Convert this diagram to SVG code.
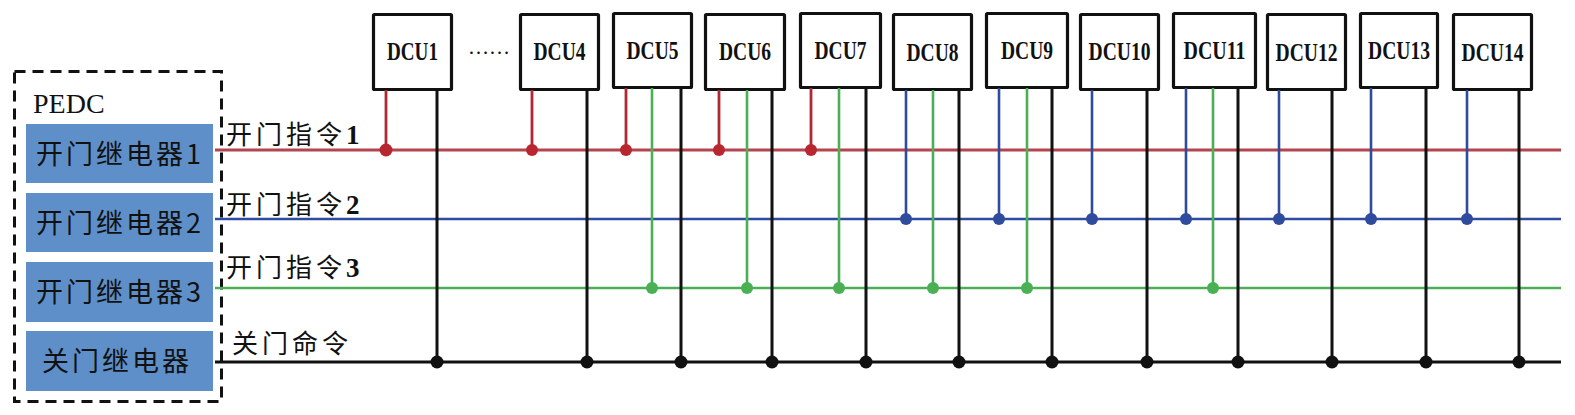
<svg xmlns="http://www.w3.org/2000/svg" width="1575" height="415" viewBox="0 0 1575 415">
<style>
.bg{fill:#ffffff}
.dcu rect{fill:#ffffff;stroke:#111111;stroke-width:3.2}
.dcu text{font-family:"Liberation Serif","Times New Roman",serif;font-weight:bold;font-size:25px;fill:#111111;text-anchor:middle}
.relay rect{fill:#5E8FC9}
.relay text{font-family:"Noto Sans CJK SC","Noto Sans",sans-serif;font-size:27px;fill:#111111;letter-spacing:3px}
.lbl{font-family:"Noto Sans CJK SC","Noto Sans",sans-serif;font-size:26px;fill:#111111;letter-spacing:4px}
.num{font-family:"Liberation Serif","Times New Roman",serif;font-weight:bold;font-size:27px;letter-spacing:0}
.r{stroke:#B2454D;stroke-width:2.8;fill:none}
.rv{stroke:#AE2A33;stroke-width:2.8;fill:none}
.b{stroke:#2F4B9E;stroke-width:2.6;fill:none}
.g{stroke:#4BAF54;stroke-width:2.6;fill:none}
.k{stroke:#111111;stroke-width:3;fill:none}
.dr{fill:#B8272F}
.db{fill:#2F4B9E}
.dg{fill:#4BAF54}
.dk{fill:#111111}
</style>
<rect class="bg" x="0" y="0" width="1575" height="415"/>

<g id="pedc">
<rect x="14.5" y="71.5" width="207" height="330" fill="none" stroke="#111111" stroke-width="3" stroke-dasharray="11 7"/>
<text x="33" y="113" font-family="Liberation Serif,'Times New Roman',serif" font-size="28" fill="#111111">PEDC</text>
</g>

<g id="relay1" class="relay">
<rect x="26" y="124" width="187" height="59"/>
<text x="36" y="164">开门继电器1</text>
</g>
<g id="relay2" class="relay">
<rect x="26" y="193" width="187" height="59"/>
<text x="36" y="233">开门继电器2</text>
</g>
<g id="relay3" class="relay">
<rect x="26" y="262" width="187" height="60"/>
<text x="36" y="302">开门继电器3</text>
</g>
<g id="relay4" class="relay">
<rect x="26" y="331" width="187" height="60"/>
<text x="42" y="371">关门继电器</text>
</g>

<g id="dcu1" class="dcu"><rect x="373.5" y="14.5" width="78" height="75" rx="1"/><text x="412.5" y="60" textLength="51" lengthAdjust="spacingAndGlyphs">DCU1</text></g>
<g id="dcu4" class="dcu"><rect x="520.5" y="14.5" width="78" height="75" rx="1"/><text x="559.5" y="60" textLength="52" lengthAdjust="spacingAndGlyphs">DCU4</text></g>
<g id="dcu5" class="dcu"><rect x="613.5" y="13.5" width="78" height="74" rx="1"/><text x="652.5" y="59" textLength="52" lengthAdjust="spacingAndGlyphs">DCU5</text></g>
<g id="dcu6" class="dcu"><rect x="705.5" y="14.5" width="79" height="75" rx="1"/><text x="745" y="60" textLength="52" lengthAdjust="spacingAndGlyphs">DCU6</text></g>
<g id="dcu7" class="dcu"><rect x="800.5" y="13.5" width="80" height="74" rx="1"/><text x="840.5" y="59" textLength="52" lengthAdjust="spacingAndGlyphs">DCU7</text></g>
<g id="dcu8" class="dcu"><rect x="893.5" y="14.5" width="78" height="75" rx="1"/><text x="932.5" y="61" textLength="52" lengthAdjust="spacingAndGlyphs">DCU8</text></g>
<g id="dcu9" class="dcu"><rect x="986.5" y="13.5" width="81" height="74" rx="1"/><text x="1027" y="59" textLength="52" lengthAdjust="spacingAndGlyphs">DCU9</text></g>
<g id="dcu10" class="dcu"><rect x="1080.5" y="14.5" width="78" height="75" rx="1"/><text x="1119.5" y="60" textLength="62" lengthAdjust="spacingAndGlyphs">DCU10</text></g>
<g id="dcu11" class="dcu"><rect x="1173.5" y="13.5" width="82" height="74" rx="1"/><text x="1214.5" y="59" textLength="62" lengthAdjust="spacingAndGlyphs">DCU11</text></g>
<g id="dcu12" class="dcu"><rect x="1267.5" y="14.5" width="78" height="75" rx="1"/><text x="1306.5" y="61" textLength="62" lengthAdjust="spacingAndGlyphs">DCU12</text></g>
<g id="dcu13" class="dcu"><rect x="1360.5" y="13.5" width="77" height="74" rx="1"/><text x="1399" y="59" textLength="62" lengthAdjust="spacingAndGlyphs">DCU13</text></g>
<g id="dcu14" class="dcu"><rect x="1453.5" y="14.5" width="78" height="75" rx="1"/><text x="1492.5" y="61" textLength="62" lengthAdjust="spacingAndGlyphs">DCU14</text></g>

<text id="ellipsis" x="468" y="54" font-family="Liberation Serif,'Times New Roman',serif" font-size="21" fill="#111111">……</text>

<g id="labels">
<text class="lbl" x="226" y="144">开门指令<tspan class="num">1</tspan></text>
<text class="lbl" x="226" y="214">开门指令<tspan class="num">2</tspan></text>
<text class="lbl" x="226" y="277">开门指令<tspan class="num">3</tspan></text>
<text class="lbl" x="232" y="353">关门命令</text>
</g>

<g id="connectors">
<line class="r" x1="215" y1="150" x2="1561" y2="150"/>
<line class="b" x1="215" y1="219" x2="1561" y2="219"/>
<line class="g" x1="215" y1="288" x2="1561" y2="288"/>
<line class="k" x1="215" y1="362" x2="1561" y2="362"/>

<line class="rv" x1="386" y1="90" x2="386" y2="150"/>
<line class="rv" x1="532" y1="90" x2="532" y2="150"/>
<line class="rv" x1="626" y1="88" x2="626" y2="150"/>
<line class="rv" x1="719" y1="90" x2="719" y2="150"/>
<line class="rv" x1="811" y1="88" x2="811" y2="150"/>

<line class="b" x1="906" y1="90" x2="906" y2="219"/>
<line class="b" x1="999" y1="88" x2="999" y2="219"/>
<line class="b" x1="1092" y1="90" x2="1092" y2="219"/>
<line class="b" x1="1186" y1="88" x2="1186" y2="219"/>
<line class="b" x1="1279" y1="90" x2="1279" y2="219"/>
<line class="b" x1="1371" y1="88" x2="1371" y2="219"/>
<line class="b" x1="1467" y1="90" x2="1467" y2="219"/>

<line class="g" x1="652" y1="88" x2="652" y2="288"/>
<line class="g" x1="747" y1="90" x2="747" y2="288"/>
<line class="g" x1="839" y1="88" x2="839" y2="288"/>
<line class="g" x1="933" y1="90" x2="933" y2="288"/>
<line class="g" x1="1027" y1="88" x2="1027" y2="288"/>
<line class="g" x1="1213" y1="88" x2="1213" y2="288"/>

<line class="k" x1="437" y1="90" x2="437" y2="362"/>
<line class="k" x1="587" y1="90" x2="587" y2="362"/>
<line class="k" x1="681" y1="88" x2="681" y2="362"/>
<line class="k" x1="772" y1="90" x2="772" y2="362"/>
<line class="k" x1="866" y1="88" x2="866" y2="362"/>
<line class="k" x1="959" y1="90" x2="959" y2="362"/>
<line class="k" x1="1052" y1="88" x2="1052" y2="362"/>
<line class="k" x1="1147" y1="90" x2="1147" y2="362"/>
<line class="k" x1="1238" y1="88" x2="1238" y2="362"/>
<line class="k" x1="1332" y1="90" x2="1332" y2="362"/>
<line class="k" x1="1426" y1="88" x2="1426" y2="362"/>
<line class="k" x1="1519" y1="90" x2="1519" y2="362"/>

<circle class="dr" cx="386" cy="150" r="6.5"/>
<circle class="dr" cx="532" cy="150" r="6"/>
<circle class="dr" cx="626" cy="150" r="6"/>
<circle class="dr" cx="719" cy="150" r="6"/>
<circle class="dr" cx="811" cy="150" r="6"/>

<circle class="db" cx="906" cy="219" r="6"/>
<circle class="db" cx="999" cy="219" r="6"/>
<circle class="db" cx="1092" cy="219" r="6"/>
<circle class="db" cx="1186" cy="219" r="6"/>
<circle class="db" cx="1279" cy="219" r="6"/>
<circle class="db" cx="1371" cy="219" r="6"/>
<circle class="db" cx="1467" cy="219" r="6"/>

<circle class="dg" cx="652" cy="288" r="6"/>
<circle class="dg" cx="747" cy="288" r="6"/>
<circle class="dg" cx="839" cy="288" r="6"/>
<circle class="dg" cx="933" cy="288" r="6"/>
<circle class="dg" cx="1027" cy="288" r="6"/>
<circle class="dg" cx="1213" cy="288" r="6"/>

<circle class="dk" cx="437" cy="362" r="6.5"/>
<circle class="dk" cx="587" cy="362" r="6.5"/>
<circle class="dk" cx="681" cy="362" r="6.5"/>
<circle class="dk" cx="772" cy="362" r="6.5"/>
<circle class="dk" cx="866" cy="362" r="6.5"/>
<circle class="dk" cx="959" cy="362" r="6.5"/>
<circle class="dk" cx="1052" cy="362" r="6.5"/>
<circle class="dk" cx="1147" cy="362" r="6.5"/>
<circle class="dk" cx="1238" cy="362" r="6.5"/>
<circle class="dk" cx="1332" cy="362" r="6.5"/>
<circle class="dk" cx="1426" cy="362" r="6.5"/>
<circle class="dk" cx="1519" cy="362" r="6.5"/>
</g>
</svg>
